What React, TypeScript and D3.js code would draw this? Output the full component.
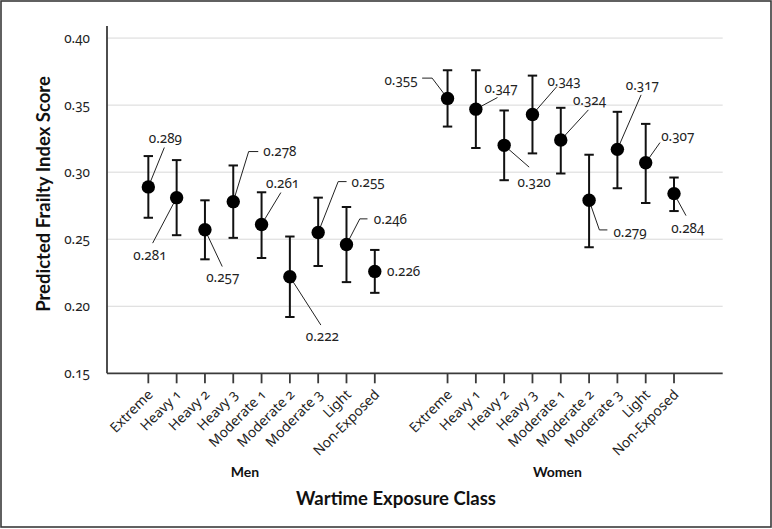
import * as d3 from 'd3';
import React from 'react';

const categories = ['Extreme', 'Heavy 1', 'Heavy 2', 'Heavy 3', 'Moderate 1', 'Moderate 2', 'Moderate 3', 'Light', 'Non-Exposed'];
const groups = ['Men', 'Women'];

const menScore = [0.289, 0.281, 0.257, 0.278, 0.261, 0.222, 0.255, 0.246, 0.226];
const menLower = [0.266, 0.253, 0.235, 0.251, 0.236, 0.192, 0.230, 0.218, 0.210];
const menUpper = [0.312, 0.309, 0.279, 0.305, 0.285, 0.252, 0.281, 0.274, 0.242];

const womenScore = [0.355, 0.347, 0.320, 0.343, 0.324, 0.279, 0.317, 0.307, 0.284];
const womenLower = [0.334, 0.318, 0.294, 0.314, 0.299, 0.244, 0.288, 0.277, 0.271];
const womenUpper = [0.376, 0.376, 0.346, 0.372, 0.348, 0.313, 0.345, 0.336, 0.296];

const yTicks = [0.15, 0.2, 0.25, 0.3, 0.35, 0.4];

// label placement, pixel offsets from the dot centre
type Callout = { path: [number, number][]; at: [number, number]; anchor: string };
const menCallouts: Callout[] = [
  { path: [[16, -39.4]], at: [17, -48.4], anchor: 'middle' },
  { path: [[-24, 45.5]], at: [-26.7, 57.3], anchor: 'middle' },
  { path: [[17.3, 36.7]], at: [17.8, 47.7], anchor: 'middle' },
  { path: [[15.4, -50.1], [25, -50.1]], at: [30, -50.6], anchor: 'start' },
  { path: [[19.3, -31.9]], at: [21.1, -41.3], anchor: 'middle' },
  { path: [[31, 48.3]], at: [32.5, 59.3], anchor: 'middle' },
  { path: [[20, -50.9], [28.4, -50.9]], at: [33.4, -50.4], anchor: 'start' },
  { path: [[13.3, -25.7], [21, -25.7]], at: [27.3, -25.4], anchor: 'start' },
  { path: [], at: [12.3, 0.2], anchor: 'start' },
];
const womenCallouts: Callout[] = [
  { path: [[-15.4, -20.3], [-25.4, -20.3]], at: [-30, -18.6], anchor: 'end' },
  { path: [[21.6, -11.6]], at: [25.1, -21], anchor: 'middle' },
  { path: [[25, 21.8]], at: [30, 37.2], anchor: 'middle' },
  { path: [[24.4, -28]], at: [31.5, -33.7], anchor: 'middle' },
  { path: [[27.6, -30.1]], at: [28.8, -39.4], anchor: 'middle' },
  { path: [[10.3, 29.6], [18.3, 29.6]], at: [24.3, 31.9], anchor: 'start' },
  { path: [[23.7, -54.5]], at: [25, -64.5], anchor: 'middle' },
  { path: [[14.3, -20.2]], at: [32.1, -26.9], anchor: 'middle' },
  { path: [[12, 22]], at: [13.8, 34.6], anchor: 'middle' },
];

const W = 772;
const H = 529;
const womenShift = 10.57;
const titleFont = 'Lato, "Open Sans", sans-serif';
const textFont = '"Noto Sans", "Open Sans", sans-serif';
const num: React.CSSProperties = { fontVariantNumeric: 'oldstyle-nums', fontFeatureSettings: '"onum"' };

export default function App() {
  const x = d3.scaleLinear().domain([-1.46, 20.29]).range([107, 722.7]);
  const y = d3.scaleLinear().domain([0.15, 0.409]).range([373.3, 26]);
  const fmt = d3.format('.2f');
  const fmt3 = d3.format('.3f');

  const series = [
    { name: groups[0], shift: 0, score: menScore, lo: menLower, hi: menUpper, callouts: menCallouts, titleDx: -16.7 },
    { name: groups[1], shift: womenShift, score: womenScore, lo: womenLower, hi: womenUpper, callouts: womenCallouts, titleDx: -3.3 },
  ];
  const line = d3.line();

  return (
    <div style={{ position: 'absolute', left: 0, top: 0 }}>
      <svg width={W} height={H} style={{ display: 'block', background: '#fff' }} fontFamily={textFont}>
        <rect x={1} y={1} width={W - 2} height={H - 3} fill="none" stroke="#3a3a3a" strokeWidth={1.6} />

        {yTicks.slice(1).map((t) => (
          <line key={t} x1={x.range()[0]} x2={x.range()[1]} y1={y(t)} y2={y(t)} stroke="#d8d8d8" strokeWidth={1} />
        ))}
        {yTicks.map((t) => (
          <text key={t} x={90} y={y(t)} dy="0.35em" textAnchor="end" fontSize={13.5} fill="#222" style={num}>
            {fmt(t)}
          </text>
        ))}

        <line x1={x.range()[0]} x2={x.range()[0]} y1={y.range()[1]} y2={y(0.15)} stroke="#3a3a3a" strokeWidth={1.8} />
        <line x1={x.range()[0]} x2={x.range()[1]} y1={y(0.15)} y2={y(0.15)} stroke="#3a3a3a" strokeWidth={1.8} />

        {series.map((s) => (
          <g key={s.name}>
            {categories.map((c, i) => {
              const cx = x(i + s.shift);
              const cy = y(s.score[i]);
              const co = s.callouts[i];
              const pts: [number, number][] = [[cx, cy], ...co.path.map(([dx, dy]) => [cx + dx, cy + dy] as [number, number])];
              return (
                <g key={c}>
                  <line x1={cx} x2={cx} y1={y(0.15)} y2={y(0.15) + 10} stroke="#3a3a3a" strokeWidth={1.8} />
                  <text
                    transform={`translate(${cx + 2},${392}) rotate(-45)`}
                    textAnchor="end"
                    dy="0.35em"
                    fontSize={13.8}
                    fill="#222"
                    style={num}
                  >
                    {c}
                  </text>
                  {co.path.length > 0 && <path d={line(pts) ?? ''} fill="none" stroke="#222" strokeWidth={1} />}
                  <line x1={cx} x2={cx} y1={y(s.lo[i])} y2={y(s.hi[i])} stroke="#111" strokeWidth={2} />
                  <line x1={cx - 4.7} x2={cx + 4.7} y1={y(s.lo[i])} y2={y(s.lo[i])} stroke="#111" strokeWidth={2} />
                  <line x1={cx - 4.7} x2={cx + 4.7} y1={y(s.hi[i])} y2={y(s.hi[i])} stroke="#111" strokeWidth={2} />
                  <circle cx={cx} cy={cy} r={6.7} fill="#000" />
                  <text x={cx + co.at[0]} y={cy + co.at[1]} dy="0.35em" textAnchor={co.anchor} fontSize={13.5} fill="#222" style={num}>
                    {fmt3(s.score[i])}
                  </text>
                </g>
              );
            })}
            <text
              x={x(4 + s.shift) + s.titleDx}
              y={472}
              dy="0.35em"
              textAnchor="middle"
              fontSize={14}
              fontWeight="bold"
              fontFamily={titleFont}
              fill="#111"
            >
              {s.name}
            </text>
          </g>
        ))}

        <text x={396} y={499} dy="0.35em" textAnchor="middle" fontSize={18.5} fontWeight="bold" fontFamily={titleFont} fill="#111">
          Wartime Exposure Class
        </text>
        <text
          transform={`translate(44,${194}) rotate(-90)`}
          dy="0.35em"
          textAnchor="middle"
          fontSize={18.5}
          fontWeight="bold"
          fontFamily={titleFont}
          fill="#111"
        >
          Predicted Frailty Index Score
        </text>
      </svg>
    </div>
  );
}
